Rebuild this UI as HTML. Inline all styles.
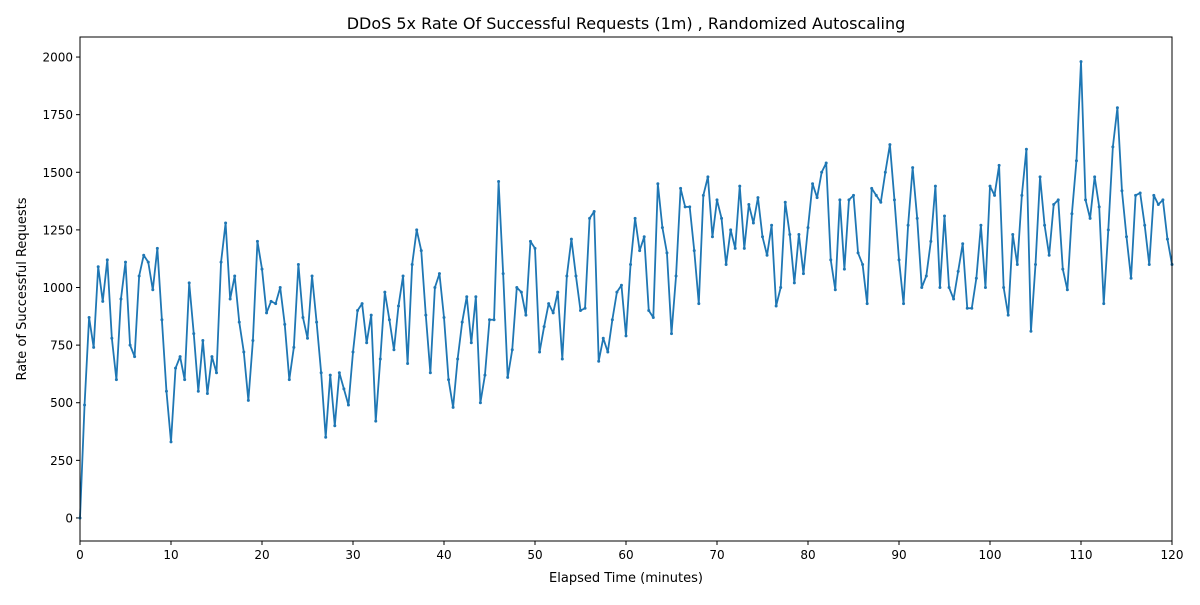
<!DOCTYPE html>
<html><head><meta charset="utf-8"><style>
body{margin:0;background:#fff;font-family:"Liberation Sans","DejaVu Sans",sans-serif}
svg text{font-family:"DejaVu Sans","Liberation Sans",sans-serif;fill:#000}
</style></head><body>
<svg id="chart" width="1200" height="600" xmlns="http://www.w3.org/2000/svg">
<rect width="1200" height="600" fill="#fff"/>
<text x="626" y="29" font-size="16" text-anchor="middle">DDoS 5x Rate Of Successful Requests (1m) , Randomized Autoscaling</text>
<text x="626" y="582" font-size="13" text-anchor="middle">Elapsed Time (minutes)</text>
<text transform="translate(26,289) rotate(-90)" font-size="13" text-anchor="middle">Rate of Successful Requests</text>
<g id="ticks"></g>
<g id="series"></g>
<rect x="80" y="37" width="1092" height="504" fill="none" stroke="#000" stroke-width="1"/>
</svg>
<script>
const xTicks=[0,10,20,30,40,50,60,70,80,90,100,110,120];
const yTicks=[0,250,500,750,1000,1250,1500,1750,2000];
const times=[];for(let i=0;i<=240;i++)times.push(i*0.5);
const rates=[0,490,870,740,1090,940,1120,780,600,950,1110,750,700,1050,1140,1110,990,1170,860,550,330,
650,700,600,1020,800,550,770,540,700,630,1110,1280,950,1050,850,720,510,770,1200,1080,
890,940,930,1000,840,600,740,1100,870,780,1050,850,630,350,620,400,630,560,490,720,
900,930,760,880,420,690,980,860,730,920,1050,670,1100,1250,1160,880,630,1000,1060,870,
600,480,690,850,960,760,960,500,620,860,860,1460,1060,610,730,1000,980,880,1200,1170,
720,830,930,890,980,690,1050,1210,1050,900,910,1300,1330,680,780,720,860,980,1010,790,
1100,1300,1160,1220,900,870,1450,1260,1150,800,1050,1430,1350,1350,1160,930,1400,1480,1220,1380,
1300,1100,1250,1170,1440,1170,1360,1280,1390,1220,1140,1270,920,1000,1370,1230,1020,1230,1060,1260,
1450,1390,1500,1540,1120,990,1380,1080,1380,1400,1150,1100,930,1430,1400,1370,1500,1620,1380,1120,
930,1270,1520,1300,1000,1050,1200,1440,1000,1310,1000,950,1070,1190,910,910,1040,1270,1000,1440,
1400,1530,1000,880,1230,1100,1400,1600,810,1100,1480,1270,1140,1360,1380,1080,990,1320,1550,1980,
1380,1300,1480,1350,930,1250,1610,1780,1420,1220,1040,1400,1410,1270,1100,1400,1360,1380,1210,1100];
const L=80,R=1172,T=37,B=541,X0=0,X1=120,Y0=-100,Y1=2087;
const sx=v=>L+(v-X0)/(X1-X0)*(R-L);
const sy=v=>B-(v-Y0)/(Y1-Y0)*(B-T);
const NS="http://www.w3.org/2000/svg";
const tg=document.getElementById('ticks');
xTicks.forEach(t=>{
 const l=document.createElementNS(NS,'line');
 l.setAttribute('x1',sx(t));l.setAttribute('x2',sx(t));l.setAttribute('y1',B);l.setAttribute('y2',B+4);l.setAttribute('stroke','#000');
 
 
 tg.appendChild(l);
 const tx=document.createElementNS(NS,'text');
 tx.setAttribute('x',sx(t));tx.setAttribute('y',B+18);tx.setAttribute('font-size','12');tx.setAttribute('text-anchor','middle');tx.textContent=t;
 
 
 tg.appendChild(tx);
});
yTicks.forEach(t=>{
 const l=document.createElementNS(NS,'line');
 l.setAttribute('x1',L-4);l.setAttribute('x2',L);l.setAttribute('y1',sy(t));l.setAttribute('y2',sy(t));l.setAttribute('stroke','#000');
 
 
 tg.appendChild(l);
 const tx=document.createElementNS(NS,'text');
 tx.setAttribute('x',L-7);tx.setAttribute('y',sy(t)+4.5);tx.setAttribute('font-size','12');tx.setAttribute('text-anchor','end');tx.textContent=t;
 
 
 tg.appendChild(tx);
});
const sg=document.getElementById('series');
const p=document.createElementNS(NS,'polyline');
p.setAttribute('points',rates.map((v,i)=>sx(times[i]).toFixed(2)+','+sy(v).toFixed(2)).join(' '));
p.setAttribute('fill','none');p.setAttribute('stroke','#1f77b4');p.setAttribute('stroke-width','1.8');p.setAttribute('stroke-linejoin','round');


sg.appendChild(p);
rates.forEach((v,i)=>{
 const c=document.createElementNS(NS,'circle');
 c.setAttribute('cx',sx(times[i]));c.setAttribute('cy',sy(v));c.setAttribute('r','1.5');c.setAttribute('fill','#1f77b4');
 
 
 sg.appendChild(c);
});
</script>
</body></html>
